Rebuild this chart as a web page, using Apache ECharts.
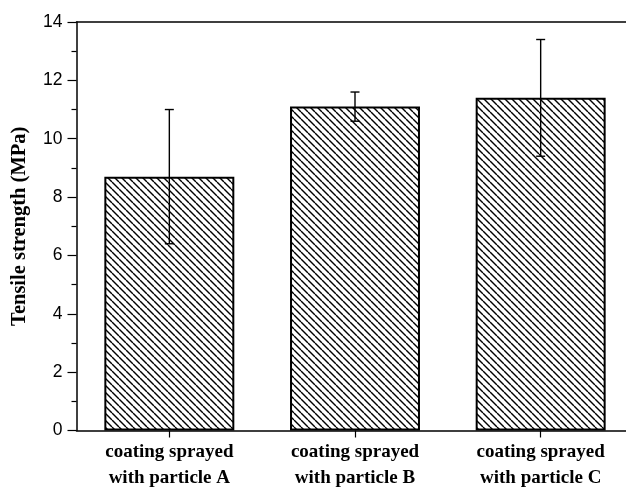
<!DOCTYPE html>
<html>
<head>
<meta charset="utf-8">
<script src="https://cdn.jsdelivr.net/npm/echarts@6/dist/echarts.min.js"></script>
<style>html,body{margin:0;padding:0;background:#fff;}#c{width:626px;height:489px;}</style>
</head>
<body>
<div id="c"></div>
<script>
const categories = ['coating sprayed\nwith particle A', 'coating sprayed\nwith particle B', 'coating sprayed\nwith particle C'];
const strength = [8.7, 11.1, 11.4];
const errLow = [6.4, 10.6, 9.4];
const errHigh = [11.0, 11.6, 13.4];
const yTicks = [0, 2, 4, 6, 8, 10, 12, 14];

function hatch() {
  const s = 7;
  const cv = document.createElement('canvas');
  cv.width = s; cv.height = s;
  const g = cv.getContext('2d');
  g.fillStyle = '#fff'; g.fillRect(0, 0, s, s);
  g.strokeStyle = '#000'; g.lineWidth = 1.4;
  for (const o of [-s, 0, s]) {
    g.beginPath(); g.moveTo(o, 0); g.lineTo(o + s, s); g.stroke();
  }
  return cv;
}

const chart = echarts.init(document.getElementById('c'), null, {renderer: 'canvas'});
const errData = categories.map((c, i) => [i, errLow[i], errHigh[i]]);

chart.setOption({
  animation: false,
  backgroundColor: '#fff',
  grid: {left: 76.5, top: 22, width: 557, height: 408.5, containLabel: false, outerBoundsMode: 'none'},
  xAxis: [{
    type: 'category', data: categories, position: 'bottom',
    axisLine: {lineStyle: {color: '#000', width: 1.5}},
    axisTick: {show: true, alignWithLabel: true, inside: false, length: 7, lineStyle: {color: '#000', width: 1.2}},
    axisLabel: {color: '#000', fontFamily: 'Liberation Serif', fontWeight: 'bold', fontSize: 19, lineHeight: 26, margin: 9, interval: 0}
  }, {
    type: 'category', data: categories, position: 'top',
    axisLine: {show: true, lineStyle: {color: '#000', width: 1.5}},
    axisTick: {show: false}, axisLabel: {show: false}
  }],
  yAxis: {
    type: 'value', min: yTicks[0], max: yTicks[yTicks.length - 1], interval: 2,
    name: 'Tensile strength (MPa)', nameLocation: 'middle', nameGap: 46,
    nameTextStyle: {color: '#000', fontFamily: 'Liberation Serif', fontWeight: 'bold', fontSize: 20.5},
    axisLine: {show: true, lineStyle: {color: '#000', width: 1.5}},
    axisTick: {show: true, inside: false, length: 9, lineStyle: {color: '#000', width: 1.2}},
    minorTick: {show: true, splitNumber: 2, length: 5, lineStyle: {color: '#000', width: 1.2}},
    splitLine: {show: false},
    axisLabel: {color: '#000', fontFamily: 'Liberation Sans', fontSize: 17.5, margin: 14}
  },
  series: [{
    type: 'bar', data: strength, barWidth: '70%',
    itemStyle: {color: {image: hatch(), repeat: 'repeat'}, borderColor: '#000', borderWidth: 2}
  }, {
    type: 'custom', data: errData, z: 10,
    renderItem: function (params, api) {
      const x = api.value(0);
      const lo = api.coord([x, api.value(1)]);
      const hi = api.coord([x, api.value(2)]);
      const w = 4.5;
      const st = {stroke: '#000', lineWidth: 1.4};
      return {type: 'group', children: [
        {type: 'line', shape: {x1: lo[0], y1: lo[1], x2: hi[0], y2: hi[1]}, style: st},
        {type: 'line', shape: {x1: lo[0] - w, y1: lo[1], x2: lo[0] + w, y2: lo[1]}, style: st},
        {type: 'line', shape: {x1: hi[0] - w, y1: hi[1], x2: hi[0] + w, y2: hi[1]}, style: st}
      ]};
    }
  }]
});
</script>
</body>
</html>
